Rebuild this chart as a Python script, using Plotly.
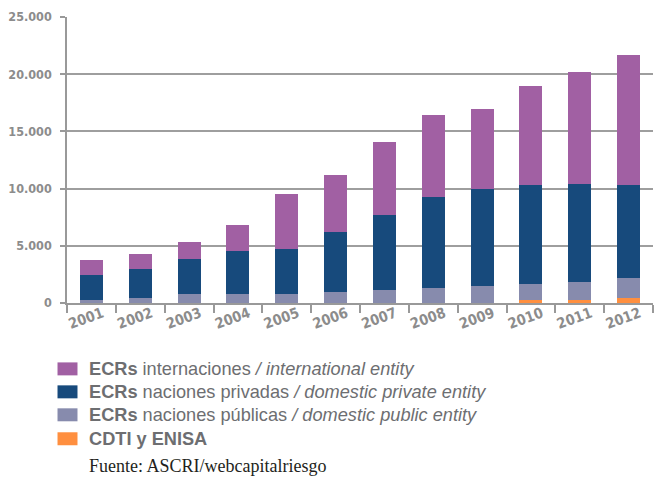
import plotly.graph_objects as go

# Years on the category axis
years = ["2001", "2002", "2003", "2004", "2005", "2006",
         "2007", "2008", "2009", "2010", "2011", "2012"]

# Amounts per funding source (stacked, bottom to top)
cdti_enisa = [0, 0, 0, 0, 0, 0, 0, 0, 0, 250, 250, 450]
ecr_publicas = [250, 430, 780, 780, 780, 960, 1130, 1300, 1480, 1400, 1580, 1730]
ecr_privadas = [2190, 2540, 3060, 3760, 3930, 5240, 6550, 7950, 8470, 8650, 8550, 8120]
ecr_internacionales = [1310, 1310, 1480, 2270, 4800, 4970, 6370, 7150, 6980, 8640, 9780, 11340]

y_ticks = [0, 5000, 10000, 15000, 20000, 25000]
y_tick_text = ["0", "5.000", "10.000", "15.000", "20.000", "25.000"]

# Legend entries, top to bottom: (bold part, regular part, italic part)
legend_rows = [
    ("ECRs", " internaciones ", "/ international entity"),
    ("ECRs", " naciones privadas ", "/ domestic private entity"),
    ("ECRs", " naciones públicas ", "/ domestic public entity"),
    ("CDTI y ENISA", "", ""),
]
source_note = "Fuente: ASCRI/webcapitalriesgo"

C_INTL = "#A160A3"
C_PRIV = "#174A7C"
C_PUB = "#878BAD"
C_CDTI = "#FF8F3F"
legend_colors = [C_INTL, C_PRIV, C_PUB, C_CDTI]

W, H = 662, 480
ML, MR, MT, MB = 67, 8.5, 16.5, 177
PW, PH = W - ML - MR, H - MT - MB


def px_x(px):
    return (px - ML) / PW


def px_y(py):
    return (H - MB - py) / PH


fig = go.Figure()
for vals, col in [(cdti_enisa, C_CDTI), (ecr_publicas, C_PUB),
                  (ecr_privadas, C_PRIV), (ecr_internacionales, C_INTL)]:
    fig.add_trace(go.Bar(x=years, y=vals, marker=dict(color=col, line=dict(width=0)),
                         showlegend=False, hoverinfo="skip"))

cond = "DejaVu Sans Condensed, Liberation Sans Narrow, Arial Narrow, sans-serif"
y_font = dict(family=cond, size=12.5, color="#8C8C8C", weight="bold")
x_font = dict(family=cond, size=14.5, color="#8C8C8C", weight="bold")

fig.update_layout(
    width=W, height=H,
    margin=dict(l=ML, r=MR, t=MT, b=MB, pad=0),
    paper_bgcolor="white", plot_bgcolor="white",
    barmode="stack", bargap=0.53,
    xaxis=dict(type="category", tickson="boundaries", ticks="outside", ticklen=8,
               tickwidth=1.5, tickcolor="#999999", showline=True, linecolor="#999999",
               linewidth=1.5, showgrid=False, tickangle=-20, tickfont=x_font,
               ticklabelshift=11, ticklabelstandoff=-5, automargin=False),
    yaxis=dict(range=[0, 25000], tickvals=y_ticks, ticktext=y_tick_text,
               ticks="outside", ticklen=5, tickwidth=1.5, tickcolor="#999999",
               showline=True, linecolor="#999999", linewidth=1.5,
               showgrid=True, gridcolor="#9E9E9E", gridwidth=1.5, zeroline=False,
               tickfont=y_font, ticklabelstandoff=6, automargin=False),
)

shapes = []
annotations = []
row_y = [369, 392, 415, 439]
for (bold, reg, ital), col, cy in zip(legend_rows, legend_colors, row_y):
    shapes.append(dict(type="rect", xref="paper", yref="paper",
                       x0=px_x(57.5), x1=px_x(77.5), y0=px_y(cy + 6.5), y1=px_y(cy - 6.5),
                       fillcolor=col, line=dict(width=0)))
    label = f"<b>{bold}</b>{reg}"
    if ital:
        label += f"<i>{ital}</i>"
    annotations.append(dict(xref="paper", yref="paper", x=px_x(87), y=px_y(cy),
                            xanchor="left", yanchor="middle", showarrow=False, text=label,
                            font=dict(family="Liberation Sans, Arial, sans-serif",
                                      size=18.2, color="#6D6E71")))

annotations.append(dict(xref="paper", yref="paper", x=px_x(87), y=px_y(466),
                        xanchor="left", yanchor="middle", showarrow=False, text=source_note,
                        font=dict(family="Liberation Serif, Times New Roman, serif",
                                  size=18, color="#231F20")))

fig.update_layout(shapes=shapes, annotations=annotations)
fig.write_html("out.html")
